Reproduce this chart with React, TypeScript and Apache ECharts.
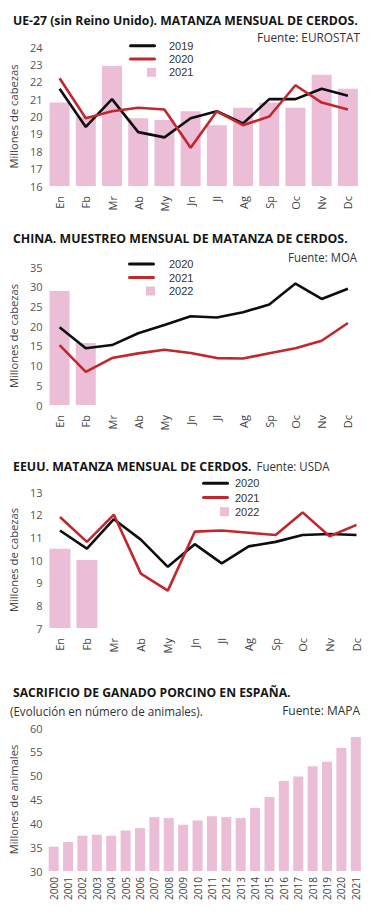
import React, { useEffect, useRef } from 'react';
import * as echarts from 'echarts';

// ---------- DATA ----------
const MONTHS = ['En', 'Fb', 'Mr', 'Ab', 'My', 'Jn', 'Jl', 'Ag', 'Sp', 'Oc', 'Nv', 'Dc'];

const EU_2019 = [21.6, 19.4, 21.0, 19.1, 18.8, 19.9, 20.3, 19.6, 21.0, 21.0, 21.6, 21.2];
const EU_2020 = [22.2, 19.9, 20.3, 20.5, 20.4, 18.2, 20.3, 19.5, 20.0, 21.8, 20.8, 20.4];
const EU_2021 = [20.8, 20.0, 22.9, 19.9, 19.8, 20.3, 19.5, 20.5, 20.8, 20.5, 22.4, 21.6];

const CN_2020 = [19.7, 14.4, 15.2, 18.2, 20.3, 22.5, 22.2, 23.5, 25.5, 30.8, 26.9, 29.5];
const CN_2021 = [15.2, 8.4, 11.9, 13.1, 14.0, 13.2, 11.9, 11.8, 13.1, 14.4, 16.3, 20.8];
const CN_2022 = [28.9, 15.7];

const US_2020 = [11.3, 10.5, 11.8, 10.9, 9.7, 10.7, 9.85, 10.6, 10.8, 11.1, 11.15, 11.1];
const US_2021 = [11.9, 10.8, 12.0, 9.4, 8.65, 11.25, 11.3, 11.2, 11.1, 12.1, 11.05, 11.55];
const US_2022 = [10.5, 10.0];

const YEARS = ['2000', '2001', '2002', '2003', '2004', '2005', '2006', '2007', '2008', '2009', '2010',
  '2011', '2012', '2013', '2014', '2015', '2016', '2017', '2018', '2019', '2020', '2021'];
const ES_SLAUGHTER = [35.1, 36.1, 37.4, 37.6, 37.4, 38.5, 39.0, 41.3, 41.1, 39.7, 40.6, 41.5, 41.3, 41.1,
  43.2, 45.5, 48.9, 49.8, 52.0, 52.9, 55.8, 58.1];

// ---------- STYLE ----------
const FONT = '"Open Sans", "Noto Sans", sans-serif';
const LEGEND_FONT = '"Liberation Sans", Arial, sans-serif';
const PINK = '#ecbdd6';
const BLACK = '#0e0e0e';
const RED = '#c2272d';
const LINE_ICON = 'path://M0,0M27,9M1.5,3H25.5A1.5,1.5,0,0,1,25.5,6H1.5A1.5,1.5,0,0,1,1.5,3Z';
const SQUARE_ICON = 'path://M0,0M27,9M18,0H27V9H18Z';

let ctx: CanvasRenderingContext2D | null = null;
function measure(text: string, font: string): number {
  if (!ctx) ctx = document.createElement('canvas').getContext('2d');
  ctx!.font = font;
  return ctx!.measureText(text).width;
}

function fitText(text: string, x: number, y: number, width: number, opts: { bold?: boolean; size: number; align?: string; fill?: string }) {
  const weight = opts.bold ? 'bold' : 'normal';
  const w = measure(text, `${weight} ${opts.size}px "Open Sans"`);
  const align = opts.align || 'left';
  return {
    type: 'text',
    x,
    y,
    scaleX: w > 0 ? width / w : 1,
    scaleY: 1,
    style: {
      text,
      fontFamily: FONT,
      fontWeight: weight,
      fontSize: opts.size,
      fill: opts.fill || '#151515',
      align,
      textAlign: align,
      verticalAlign: 'middle',
      textVerticalAlign: 'middle',
    },
  };
}

function yAxis(min: number, max: number, interval: number, name: string, nameGap: number, nameSize: number) {
  return {
    type: 'value',
    min,
    max,
    interval,
    axisLine: { show: false },
    axisTick: { show: false },
    splitLine: { show: false },
    axisLabel: { fontSize: 11, color: '#555', margin: 4, fontFamily: FONT },
    name,
    nameLocation: 'middle',
    nameGap,
    nameTextStyle: { fontSize: nameSize, color: '#444', fontFamily: FONT },
  };
}

function xAxis(data: string[], fontSize: number, margin: number) {
  return {
    type: 'category',
    data,
    axisLine: { show: false },
    axisTick: { show: false },
    axisLabel: { rotate: 90, margin, fontSize, color: '#444', fontFamily: FONT, interval: 0 },
  };
}

function lineSeries(name: string, data: number[], color: string) {
  return {
    type: 'line',
    name,
    data,
    symbol: 'none',
    showSymbol: false,
    z: 3,
    lineStyle: { width: 2.6, color },
    itemStyle: { color },
  };
}

function barSeries(name: string, data: number[], barWidth: number) {
  return { type: 'bar', name, data, barWidth, z: 1, itemStyle: { color: PINK } };
}

function legend(left: number, top: number, names: string[], textPad: number, gap: number) {
  return {
    orient: 'vertical',
    left,
    top,
    padding: 0,
    itemWidth: 27,
    itemHeight: 9,
    itemGap: gap,
    selectedMode: false,
    data: [
      { name: names[0], icon: LINE_ICON },
      { name: names[1], icon: LINE_ICON },
      { name: names[2], icon: SQUARE_ICON },
    ],
    textStyle: { fontSize: 11, lineHeight: 12, color: '#333', fontFamily: LEGEND_FONT, padding: [0, 0, 0, textPad] },
  };
}

const optEU = () => ({
  animation: false,
  graphic: [
    fitText('UE-27 (sin Reino Unido). MATANZA MENSUAL DE CERDOS.', 13, 20, 345, { bold: true, size: 13 }),
    fitText('Fuente: EUROSTAT', 360, 37, 103, { size: 12, align: 'right', fill: '#333' }),
  ],
  legend: legend(129, 39.7, ['2019', '2020', '2021'], 8, 1.3),
  grid: { left: 44, right: 11, top: 47, height: 139 },
  xAxis: xAxis(MONTHS, 11, 10),
  yAxis: yAxis(16, 24, 1, 'Millones de cabezas', 22, 11.2),
  series: [
    barSeries('2021', EU_2021, 20),
    lineSeries('2019', EU_2019, BLACK),
    lineSeries('2020', EU_2020, RED),
  ],
});

const optCN = () => ({
  animation: false,
  graphic: [
    fitText('CHINA. MUESTREO MENSUAL DE MATANZA DE CERDOS.', 13, 13.3, 335, { bold: true, size: 13 }),
    fitText('Fuente: MOA', 357, 32, 69, { size: 12, align: 'right', fill: '#333' }),
  ],
  legend: legend(128, 33, ['2020', '2021', '2022'], 9, 1.5),
  grid: { left: 44, right: 11, top: 42, height: 138 },
  xAxis: xAxis(MONTHS, 11, 10),
  yAxis: yAxis(0, 35, 5, 'Millones de cabezas', 22, 11.2),
  series: [
    barSeries('2022', CN_2022, 20),
    lineSeries('2020', CN_2020, BLACK),
    lineSeries('2021', CN_2021, RED),
  ],
});

const optUS = () => ({
  animation: false,
  graphic: [
    fitText('EEUU. MATANZA MENSUAL DE CERDOS.', 13, 15.7, 239, { bold: true, size: 13 }),
    fitText('Fuente: USDA', 256.5, 15.7, 73, { size: 12, fill: '#333' }),
  ],
  legend: legend(202, 27.3, ['2020', '2021', '2022'], 1, 2.2),
  grid: { left: 43, right: 2, top: 42, height: 136 },
  xAxis: xAxis(MONTHS, 11, 10),
  yAxis: yAxis(7, 13, 1, 'Millones de cabezas', 21, 11.2),
  series: [
    barSeries('2022', US_2022, 21),
    lineSeries('2020', US_2020, BLACK),
    lineSeries('2021', US_2021, RED),
  ],
});

const optES = () => ({
  animation: false,
  graphic: [
    fitText('SACRIFICIO DE GANADO PORCINO EN ESPAÑA.', 13, 12.7, 278, { bold: true, size: 13 }),
    fitText('(Evolución en número de animales).', 10, 30.7, 193, { size: 12, fill: '#333' }),
    fitText('Fuente: MAPA', 360, 30.7, 78, { size: 12, align: 'right', fill: '#333' }),
  ],
  grid: { left: 40, right: 9, top: 48, height: 143 },
  xAxis: xAxis(YEARS, 10, 6),
  yAxis: yAxis(30, 60, 5, 'Millones de animales', 19, 11.2),
  series: [barSeries('Sacrificio', ES_SLAUGHTER, 10)],
});

function ChartBox({ top, height, build }: { top: number; height: number; build: () => any }) {
  const ref = useRef<HTMLDivElement>(null);
  useEffect(() => {
    if (!ref.current) return;
    const chart = echarts.init(ref.current, undefined, { renderer: 'svg' });
    chart.setOption(build());
    return () => chart.dispose();
  }, [build]);
  return <div ref={ref} style={{ position: 'absolute', left: 0, top, width: 372, height }} />;
}

export default function App() {
  return (
    <div style={{ position: 'absolute', left: 0, top: 0, width: 372, height: 919, background: '#fff' }}>
      <ChartBox top={0} height={225} build={optEU} />
      <ChartBox top={225} height={225} build={optCN} />
      <ChartBox top={450} height={230} build={optUS} />
      <ChartBox top={680} height={239} build={optES} />
    </div>
  );
}
